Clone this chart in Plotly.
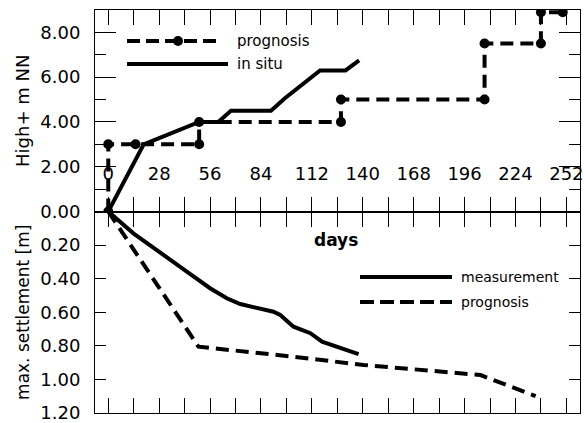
import plotly.graph_objects as go

# ---------------- data ----------------
# upper panel: construction height (m NN)
prog_days = [0, 0, 15, 50, 50, 128, 128, 207, 207, 238, 238, 250]
prog_height = [0, 3.0, 3.0, 3.0, 4.0, 4.0, 5.0, 5.0, 7.5, 7.5, 8.9, 8.9]
situ_days = [0, 19.5, 50, 60.5, 67.5, 89.5, 97, 116.5, 130.5, 138]
situ_height = [0, 3.0, 4.0, 4.0, 4.5, 4.5, 5.05, 6.3, 6.3, 6.75]

# lower panel: settlement (m)
meas_days = [0, 13.8, 43.2, 56, 65.2, 72.6, 90.9, 94.6, 101.9, 111.2, 117.6, 137.7]
meas_settle = [0, 0.13, 0.358, 0.457, 0.517, 0.551, 0.597, 0.616, 0.686, 0.725, 0.775, 0.849]
progl_days = [0, 49.6, 101.9, 140.5, 204.8, 212.1, 235.1]
progl_settle = [0, 0.805, 0.865, 0.914, 0.974, 1.003, 1.099]

# ticks
x_tick_vals = [0, 28, 56, 84, 112, 140, 168, 196, 224, 252]
x_tick_text = ["0", "28", "56", "84", "112", "140", "168", "196", "224", "252"]
x_minor_vals = [14, 42, 70, 98, 126, 154, 182, 210, 238]
yu_tick_vals = [2, 4, 6, 8]
yu_tick_text = ["2.00", "4.00", "6.00", "8.00"]
yu_minor_vals = [1, 3, 5, 7]
yl_tick_vals = [0, 0.2, 0.4, 0.6, 0.8, 1.0, 1.2]
yl_tick_text = ["0.00", "0.20", "0.40", "0.60", "0.80", "1.00", "1.20"]

legend_upper = ["prognosis", "in situ"]
legend_lower = ["measurement", "prognosis"]

FONT = "DejaVu Sans"
W, H = 584, 423
ML, MR, MT, MB = 95, 4, 10, 10
PW, PH = W - ML - MR, H - MT - MB


def px(xp):
    return (xp - ML) / PW


def py(yp):
    return (H - MB - yp) / PH


DASH = "13px,7px"

fig = go.Figure()
fig.add_trace(go.Scatter(x=prog_days, y=prog_height, mode="lines+markers",
                         line=dict(color="black", width=4, dash=DASH),
                         marker=dict(color="black", size=10, symbol="circle"),
                         xaxis="x", yaxis="y", showlegend=False, name=legend_upper[0]))
fig.add_trace(go.Scatter(x=situ_days, y=situ_height, mode="lines",
                         line=dict(color="black", width=4),
                         xaxis="x", yaxis="y", showlegend=False, name=legend_upper[1]))
fig.add_trace(go.Scatter(x=meas_days, y=meas_settle, mode="lines",
                         line=dict(color="black", width=4),
                         xaxis="x2", yaxis="y2", showlegend=False, name=legend_lower[0]))
fig.add_trace(go.Scatter(x=progl_days, y=progl_settle, mode="lines",
                         line=dict(color="black", width=4, dash=DASH),
                         xaxis="x2", yaxis="y2", showlegend=False, name=legend_lower[1]))

tickfont = dict(family=FONT, size=18, color="black")
common_x = dict(range=[-7.3, 259.5], tickmode="array", tickvals=x_tick_vals,
                ticks="inside", ticklen=15, tickcolor="black", tickwidth=1,
                minor=dict(tickmode="array", tickvals=x_minor_vals, ticks="inside",
                           ticklen=15, tickcolor="black", tickwidth=1),
                showline=True, linecolor="black", linewidth=1, mirror="ticks",
                showgrid=False, zeroline=False, tickfont=tickfont, layer="below traces",
                automargin=False, ticklabeloverflow="allow")
common_y = dict(showline=True, linecolor="black", linewidth=1, mirror="ticks",
                showgrid=False, zeroline=False, tickfont=tickfont, ticklabelstandoff=10,
                tickmode="array", ticks="inside", tickcolor="black",
                automargin=False, ticklabeloverflow="allow")

fig.update_layout(
    width=W, height=H,
    margin=dict(l=ML, r=MR, t=MT, b=MB, autoexpand=False),
    paper_bgcolor="white", plot_bgcolor="white",
    font=dict(family=FONT, color="black"),
    hovermode=False,
    xaxis=dict(common_x, anchor="y", domain=[0, 1], ticktext=x_tick_text,
               ticklabelposition="inside", ticklabelstandoff=14),
    xaxis2=dict(common_x, anchor="y2", domain=[0, 1], matches="x", showticklabels=False),
    yaxis=dict(common_y, domain=[0.5, 1], range=[0, 9], tickvals=yu_tick_vals,
               ticktext=yu_tick_text, ticklen=21,
               minor=dict(tickmode="array", tickvals=yu_minor_vals, ticks="inside",
                          ticklen=11, tickcolor="black"),
               anchor="x",
               title=dict(text="High+ m NN", font=dict(family=FONT, size=18), standoff=6)),
    yaxis2=dict(common_y, domain=[0, 0.5], range=[1.2, 0], tickvals=yl_tick_vals,
                ticktext=yl_tick_text, ticklen=11, anchor="x2",
                title=dict(text="max. settlement [m]", font=dict(family=FONT, size=17), standoff=6)),
)

# hand-drawn legends (sample lines + labels)
shapes = [
    dict(type="line", xref="paper", yref="paper", x0=px(127), x1=px(222), y0=py(41), y1=py(41),
         line=dict(color="black", width=4, dash="13px,6px")),
    dict(type="circle", xref="paper", yref="paper", x0=px(173), x1=px(183), y0=py(46), y1=py(36),
         fillcolor="black", line=dict(color="black", width=0)),
    dict(type="line", xref="paper", yref="paper", x0=px(127), x1=px(228), y0=py(64), y1=py(64),
         line=dict(color="black", width=4)),
    dict(type="line", xref="paper", yref="paper", x0=px(360), x1=px(452), y0=py(277), y1=py(277),
         line=dict(color="black", width=4)),
    dict(type="line", xref="paper", yref="paper", x0=px(360), x1=px(452), y0=py(302), y1=py(302),
         line=dict(color="black", width=4, dash="14px,6px")),
]
annotations = [
    dict(text=legend_upper[0], x=px(235), y=py(41), xref="paper", yref="paper",
         xanchor="left", yanchor="middle", showarrow=False, font=dict(family=FONT, size=15, color="black")),
    dict(text=legend_upper[1], x=px(235), y=py(64), xref="paper", yref="paper",
         xanchor="left", yanchor="middle", showarrow=False, font=dict(family=FONT, size=15, color="black")),
    dict(text=legend_lower[0], x=px(459), y=py(277), xref="paper", yref="paper",
         xanchor="left", yanchor="middle", showarrow=False, font=dict(family=FONT, size=14, color="black")),
    dict(text=legend_lower[1], x=px(459), y=py(302), xref="paper", yref="paper",
         xanchor="left", yanchor="middle", showarrow=False, font=dict(family=FONT, size=14, color="black")),
    dict(text="<b>days</b>", x=px(336), y=py(240), xref="paper", yref="paper",
         xanchor="center", yanchor="middle", showarrow=False, font=dict(family=FONT, size=17, color="black")),
]
fig.update_layout(shapes=shapes, annotations=annotations)

fig.write_html("out.html", config={"displayModeBar": False},
               post_script="document.body.style.margin='0px';document.body.style.overflow='hidden';")
